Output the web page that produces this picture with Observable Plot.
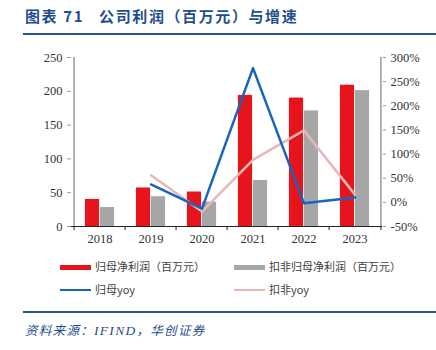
<!DOCTYPE html>
<html>
<head>
<meta charset="utf-8">
<script src="https://cdn.jsdelivr.net/npm/d3@7"></script>
<script src="https://cdn.jsdelivr.net/npm/@observablehq/plot@0.6"></script>
<style>
  html, body { margin: 0; padding: 0; background: #fff; }
  #wrap { position: relative; width: 436px; height: 350px; overflow: hidden; font-family: "Noto Sans CJK SC", sans-serif; }
  .abs { position: absolute; }
  #title { left: 25px; top: 5px; font-size: 15px; font-weight: bold; color: #1f4e8c; letter-spacing: 1.6px; white-space: pre; }
  .rule { left: 23px; width: 413px; height: 2px; background: #2a5595; }
  .lg { font-size: 11px; color: #404040; white-space: nowrap; line-height: 14px; }
  #source { left: 25px; top: 320px; font-size: 12.5px; font-style: italic; color: #1f4e8c; white-space: pre; letter-spacing: 1.3px; }
  #chart { left: 0; top: 45px; }
</style>
</head>
<body>
<div id="wrap">
  <div id="title" class="abs">图表 71   公司利润（百万元）与增速</div>
  <div class="abs rule" style="top:33px;"></div>
  <div id="chart" class="abs"></div>
  <div id="legend"></div>
  <div class="abs rule" style="top:311px;height:1.5px;"></div>
  <div id="source" class="abs">资料来源：<span style="font-family:'Liberation Serif';font-size:13.5px;">IFIND</span>，华创证券</div>
</div>
<script>
const years = ["2018", "2019", "2020", "2021", "2022", "2023"];
const netProfit = [40, 57, 51, 194, 190, 209];
const deductedProfit = [28, 44, 36, 68, 171, 201];
const netYoy = [null, 37, -13, 278, -2, 10];
const deductedYoy = [null, 56, -19, 88, 149, 16];
const leftTicks = [0, 50, 100, 150, 200, 250];
const rightTicks = [-50, 0, 50, 100, 150, 200, 250, 300];
const seriesNames = ["归母净利润（百万元）", "扣非归母净利润（百万元）", "归母yoy", "扣非yoy"];
const colors = ["#e8141c", "#a6a6a6", "#1565c0", "#e8b7b7"];

const toLeft = v => (v + 50) * 250 / 350;
const fromLeft = v => v * 350 / 250 - 50;

const rows = years.map((y, i) => ({year: y, net: netProfit[i], ded: deductedProfit[i], netYoy: netYoy[i], dedYoy: deductedYoy[i]}));
const yoyRows = rows.filter(d => d.netYoy != null);

const W = 436, mL = 71, mR = 54;
const bw = (W - mL - mR) / years.length;
const barW = 15;

const chart = Plot.plot({
  width: W,
  height: 205,
  marginTop: 12,
  marginBottom: 24,
  marginLeft: mL,
  marginRight: mR,
  style: {fontFamily: "'Liberation Serif', serif", fontSize: "12.5px", color: "#333", background: "#fff"},
  x: {type: "band", domain: years, padding: 0},
  y: {domain: [0, 250]},
  marks: [
    Plot.barY(rows, {x: "year", y: "net", fill: colors[0], insetLeft: bw / 2 - barW, insetRight: bw / 2}),
    Plot.barY(rows, {x: "year", y: "ded", fill: colors[1], insetLeft: bw / 2, insetRight: bw / 2 - barW}),
    Plot.line(yoyRows, {x: "year", y: d => toLeft(d.dedYoy), stroke: colors[3], strokeWidth: 2.5}),
    Plot.line(yoyRows, {x: "year", y: d => toLeft(d.netYoy), stroke: colors[2], strokeWidth: 2.5}),
    Plot.ruleX([years[0]], {dx: -bw / 2, y1: 0, y2: 250, stroke: "#999", strokeWidth: 1.5}),
    Plot.ruleX([years[years.length - 1]], {dx: bw / 2, y1: toLeft(-50), y2: toLeft(300), stroke: "#999", strokeWidth: 1.5}),
    Plot.ruleY([0], {stroke: "#222", strokeWidth: 1.2}),
    Plot.ruleX(years, {dx: -bw / 2, y1: 0, y2: -6, stroke: "#222"}),
    Plot.ruleX([years[years.length - 1]], {dx: bw / 2, y1: 0, y2: -6, stroke: "#222"}),
    Plot.axisY(leftTicks, {anchor: "left", tickSize: 4, tickPadding: 5, stroke: "#999", label: null}),
    Plot.axisY(rightTicks.map(toLeft), {anchor: "right", tickSize: 3, tickPadding: 5, stroke: "#999", label: null, tickFormat: d => Math.round(fromLeft(d)) + "%"}),
    Plot.axisX({tickSize: 0, tickPadding: 8, label: null})
  ]
});
document.getElementById("chart").appendChild(chart);

const legend = document.getElementById("legend");
const items = [
  {name: seriesNames[0], color: colors[0], left: 60, top: 267, h: 5},
  {name: seriesNames[1], color: colors[1], left: 234, top: 267, h: 5},
  {name: seriesNames[2], color: colors[2], left: 60, top: 290, h: 2},
  {name: seriesNames[3], color: colors[3], left: 234, top: 290, h: 2}
];
for (const it of items) {
  const sw = document.createElement("div");
  sw.className = "abs";
  sw.style.cssText = `left:${it.left}px;top:${it.top - it.h / 2}px;width:31px;height:${it.h}px;background:${it.color};`;
  legend.appendChild(sw);
  const tx = document.createElement("div");
  tx.className = "abs lg";
  tx.style.cssText = `left:${it.left + 35}px;top:${it.top - 8}px;`;
  tx.textContent = it.name;
  legend.appendChild(tx);
}
</script>
</body>
</html>
